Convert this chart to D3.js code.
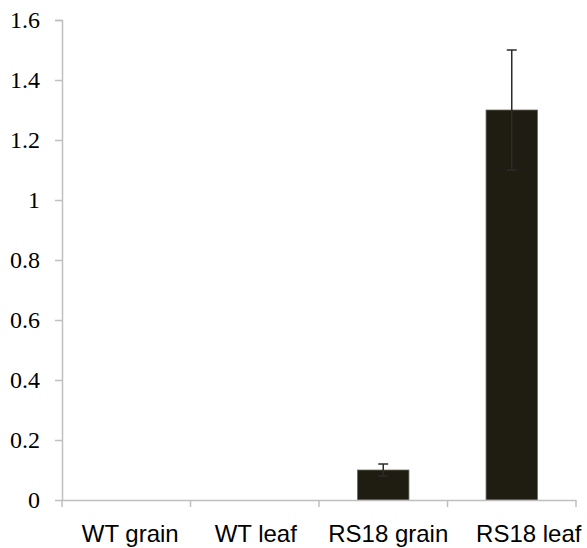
<!DOCTYPE html>
<html>
<head>
<meta charset="utf-8">
<script src="https://cdn.jsdelivr.net/npm/d3@7"></script>
<style>
  html, body { margin: 0; padding: 0; background: #fff; }
  svg { display: block; }
</style>
</head>
<body>
<div id="chart"></div>
<script>
const categories = ['WT grain', 'WT leaf', 'RS18 grain', 'RS18 leaf'];
const values = [0, 0, 0.1, 1.3];
const errors = [0, 0, 0.02, 0.2];
const yTicks = [0, 0.2, 0.4, 0.6, 0.8, 1, 1.2, 1.4, 1.6];

const width = 587, height = 548;
const margin = { top: 20, right: 11, bottom: 48, left: 62 };
const W = width - margin.left - margin.right;
const H = height - margin.top - margin.bottom;

const svg = d3.select('#chart').append('svg')
  .attr('width', width)
  .attr('height', height);

const g = svg.append('g').attr('transform', `translate(${margin.left},${margin.top})`);

const xb = d3.scaleBand().domain(categories).range([0, W]);
const y = d3.scaleLinear().domain([0, 1.6]).range([H, 0]);

// Y axis
g.append('g')
  .call(d3.axisLeft(y).tickValues(yTicks).tickSize(7).tickPadding(15).tickFormat(d => String(+d.toFixed(1))))
  .call(a => a.select('.domain').attr('stroke', '#bfbfbf').attr('stroke-width', 1.5).attr('d', `M-7,0.5H0.5V${H}`))
  .call(a => a.selectAll('.tick line').attr('stroke', '#bfbfbf').attr('stroke-width', 1.5))
  .call(a => a.selectAll('.tick text')
    .attr('font-family', '"Liberation Serif", "Times New Roman", serif')
    .attr('font-size', 24).attr('fill', '#000'));

// Bars
const barW = xb.bandwidth() / 2.5;
g.selectAll('.bar')
  .data(categories)
  .join('rect')
  .attr('class', 'bar')
  .attr('x', d => xb(d) + (xb.bandwidth() - barW) / 2)
  .attr('width', barW)
  .attr('y', (d, i) => y(values[i]))
  .attr('height', (d, i) => H - y(values[i]))
  .attr('fill', '#1f1d11')
  .attr('stroke', '#6b6a60')
  .attr('stroke-width', 0.8);

// X axis (last label sits a bit right, as in the original)
const labelShift = [4, 1, 5, 17];
g.append('g')
  .attr('transform', `translate(0,${H})`)
  .call(d3.axisBottom(xb).tickSize(0).tickPadding(25))
  .call(a => a.select('.domain').attr('stroke', '#bfbfbf').attr('stroke-width', 1.5).attr('d', `M0,0.5H${W}`))
  .call(a => a.selectAll('.tick text')
    .attr('dx', (d, i) => labelShift[i])
    .attr('font-family', '"Liberation Sans", Arial, sans-serif')
    .attr('font-size', 24).attr('fill', '#000'));

// category separator ticks
const bounds = categories.map(c => xb(c)).concat([W]);
g.selectAll('.sep')
  .data(bounds)
  .join('line')
  .attr('class', 'sep')
  .attr('x1', d => d).attr('x2', d => d)
  .attr('y1', H).attr('y2', H + 7)
  .attr('stroke', '#bfbfbf').attr('stroke-width', 1.5);

// Error bars
const eb = categories.map((c, i) => ({ c, v: values[i], e: errors[i] })).filter(d => d.e > 0);
const cx = d => xb(d.c) + xb.bandwidth() / 2;
const errG = g.selectAll('.err').data(eb).join('g').attr('class', 'err')
  .attr('stroke', '#2b2b2b').attr('stroke-width', 1.5);
errG.append('line')
  .attr('x1', cx).attr('x2', cx)
  .attr('y1', d => y(d.v + d.e)).attr('y2', d => y(d.v - d.e));
errG.append('line')
  .attr('x1', d => cx(d) - 5).attr('x2', d => cx(d) + 5)
  .attr('y1', d => y(d.v + d.e)).attr('y2', d => y(d.v + d.e));
errG.append('line')
  .attr('x1', d => cx(d) - 5).attr('x2', d => cx(d) + 5)
  .attr('y1', d => y(d.v - d.e)).attr('y2', d => y(d.v - d.e));
</script>
</body>
</html>
